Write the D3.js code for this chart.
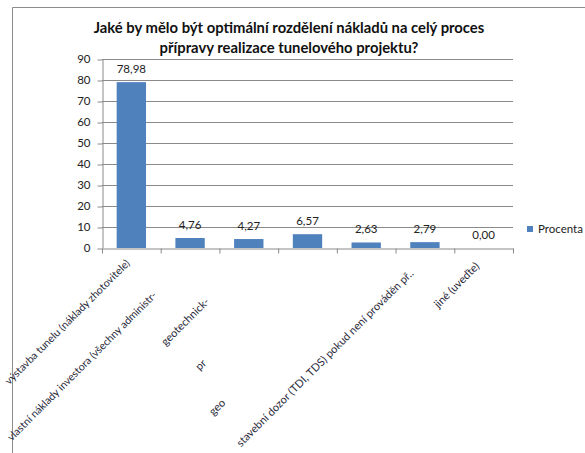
<!DOCTYPE html>
<html>
<head>
<meta charset="utf-8">
<script src="https://cdn.jsdelivr.net/npm/d3@7"></script>
<style>
  html, body { margin: 0; padding: 0; background: #fff; overflow: hidden; }
  svg { display: block; font-family: Lato, "Open Sans", sans-serif; }
</style>
</head>
<body>
<svg id="chart" width="585" height="453"></svg>
<script>
// ---- data ----
const categories = [
  "výstavba tunelu (náklady zhotovitele)",
  "vlastní náklady investora (všechny administr-",
  "geotechnick-",
  "pr",
  "geo",
  "stavební dozor (TDI, TDS) pokud není prováděn př..",
  "jiné (uveďte)"
];
const values = [78.98, 4.76, 4.27, 6.57, 2.63, 2.79, 0.00];
const valueLabels = ["78,98", "4,76", "4,27", "6,57", "2,63", "2,79", "0,00"];
const yTicks = [0, 10, 20, 30, 40, 50, 60, 70, 80, 90];
const seriesName = "Procenta";
const titleLines = [
  "Jaké by mělo být optimální rozdělení nákladů na celý proces",
  "přípravy realizace tunelového projektu?"
];

// ---- layout (kept apart from data) ----
const W = 585, H = 453;
const labelShift = [12, 57, 66, 153, 209, 26, 16];
const plot = { left: 102, right: 513, top: 59, bottom: 248 };
const barColor = "#4F81BD";
const gridColor = "#8a8a8a";
const textColor = "#222";

const svg = d3.select("#chart");

// outer frame
svg.append("path")
  .attr("d", "M12.5,460 L12.5,7.5 L600,7.5")
  .attr("fill", "none").attr("stroke", "#8c8c8c").attr("stroke-width", 1);

// title
svg.append("g").selectAll("text").data(titleLines).join("text")
  .attr("x", 289).attr("y", (d, i) => 33 + i * 20)
  .attr("text-anchor", "middle")
  .attr("font-weight", "bold").attr("font-size", 14.8)
  .attr("fill", "#111")
  .text(d => d);

const x = d3.scaleBand().domain(d3.range(categories.length))
  .range([plot.left, plot.right]).paddingInner(0.5).paddingOuter(0.25);
const y = d3.scaleLinear().domain([0, 90]).range([plot.bottom, plot.top]);

// gridlines
svg.append("g").selectAll("line").data(yTicks.filter(t => t > 0)).join("line")
  .attr("x1", plot.left).attr("x2", plot.right)
  .attr("y1", d => Math.round(y(d)) + 0.5).attr("y2", d => Math.round(y(d)) + 0.5)
  .attr("stroke", gridColor).attr("stroke-width", 1);

// y axis
const yAxis = svg.append("g").attr("transform", `translate(${plot.left + 0.5},0)`)
  .call(d3.axisLeft(y).tickValues(yTicks).tickSize(5).tickPadding(7).tickSizeOuter(0));
yAxis.select(".domain").attr("stroke", gridColor);
yAxis.selectAll(".tick line").attr("stroke", gridColor)
  .attr("transform", "translate(0,0.5)");
yAxis.selectAll(".tick text").attr("font-size", 11.5).attr("fill", textColor)
  .attr("font-family", "Lato, sans-serif");

// x axis with boundary ticks
const xb = d3.scaleLinear().domain([0, categories.length]).range([plot.left, plot.right]);
const xAxis = svg.append("g").attr("transform", `translate(0,${plot.bottom + 0.5})`)
  .call(d3.axisBottom(xb).tickValues(d3.range(categories.length + 1)).tickFormat("").tickSize(5).tickSizeOuter(0));
xAxis.select(".domain").attr("stroke", gridColor);
xAxis.selectAll(".tick line").attr("stroke", gridColor);

// bars
svg.append("g").selectAll("rect").data(values).join("rect")
  .attr("x", (d, i) => x(i)).attr("width", x.bandwidth())
  .attr("y", d => y(d)).attr("height", d => y(0) - y(d))
  .attr("fill", barColor);

// value labels
svg.append("g").selectAll("text").data(values).join("text")
  .attr("x", (d, i) => x(i) + x.bandwidth() / 2)
  .attr("y", d => y(d) - 9)
  .attr("text-anchor", "middle").attr("font-size", 11.5).attr("fill", textColor)
  .text((d, i) => valueLabels[i]);

// category labels, rotated; shrink a label until it fits inside the page
const baseFont = 11;
svg.append("g").selectAll("text").data(categories).join("text")
  .attr("transform", (d, i) => `translate(${x(i) + x.bandwidth() / 2},${y(0)}) rotate(-45)`)
  .attr("x", (d, i) => -labelShift[i])
  .attr("y", 7).attr("dy", "0.35em")
  .attr("text-anchor", "end").attr("font-size", baseFont).attr("fill", "#2a2a3a")
  .text(d => d)
  .each(function () {
    let fs = baseFont;
    let r = this.getBoundingClientRect();
    while ((r.left < 2 || r.bottom > H - 2) && fs > 6) {
      fs -= 0.2;
      this.setAttribute("font-size", fs);
      r = this.getBoundingClientRect();
    }
  });

// legend
const lg = svg.append("g").attr("transform", "translate(527,226)");
lg.append("rect").attr("width", 6).attr("height", 6).attr("fill", barColor);
lg.append("text").attr("x", 11).attr("y", 3).attr("dy", "0.35em")
  .attr("font-size", 11.5).attr("fill", textColor).text(seriesName);
</script>
</body>
</html>
